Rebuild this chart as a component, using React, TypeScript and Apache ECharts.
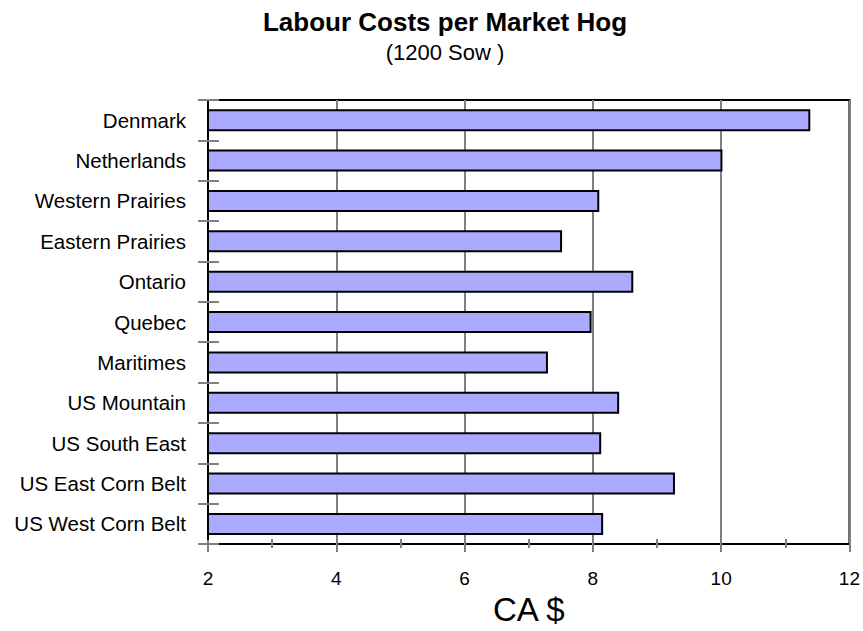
import React, { useEffect, useRef } from "react";
import * as echarts from "echarts";

// Regions, top to bottom
const regions = [
  "Denmark",
  "Netherlands",
  "Western Prairies",
  "Eastern Prairies",
  "Ontario",
  "Quebec",
  "Maritimes",
  "US Mountain",
  "US South East",
  "US East Corn Belt",
  "US West Corn Belt",
];

// Labour cost per market hog, CA $
const labourCost = [11.39, 10.02, 8.1, 7.52, 8.63, 7.98, 7.3, 8.41, 8.13, 9.28, 8.16];

const chartTitle = "Labour Costs per Market Hog";
const chartSubtitle = "(1200 Sow )";
const valueAxisName = "CA $";

const FONT = "'Liberation Sans', Arial, Helvetica, sans-serif";

export default function App() {
  const ref = useRef<HTMLDivElement>(null);

  useEffect(() => {
    if (!ref.current) return;
    const chart = echarts.init(ref.current, null, { renderer: "svg" });

    const tickStyle = { color: "#808080", width: 2 };

    chart.setOption({
      animation: false,
      backgroundColor: "#ffffff",
      textStyle: { fontFamily: FONT, color: "#000" },
      graphic: [
        {
          type: "text",
          x: 445,
          y: 22,
          style: {
            text: chartTitle,
            font: `bold 26px ${FONT}`,
            fill: "#000",
            textAlign: "center",
            textVerticalAlign: "middle",
          },
        },
        {
          type: "text",
          x: 445,
          y: 52,
          style: {
            text: chartSubtitle,
            font: `22px ${FONT}`,
            fill: "#000",
            textAlign: "center",
            textVerticalAlign: "middle",
          },
        },
      ],
      grid: {
        left: 208,
        right: 9,
        top: 100,
        bottom: 79,
        show: true,
        borderColor: "#000",
        borderWidth: 2,
        backgroundColor: "#fff",
      },
      xAxis: [
        {
          type: "value",
          position: "bottom",
          min: 2,
          max: 12,
          interval: 2,
          name: valueAxisName,
          nameLocation: "middle",
          nameGap: 43,
          nameTextStyle: { fontSize: 33, color: "#000", fontFamily: FONT },
          axisLine: { show: true, lineStyle: { color: "#000", width: 2 } },
          axisTick: { show: true, inside: false, length: 8, lineStyle: tickStyle },
          minorTick: { show: true, splitNumber: 2, length: 4, lineStyle: tickStyle },
          axisLabel: { fontSize: 19, color: "#000", margin: 25, fontFamily: FONT },
          splitLine: { show: true, lineStyle: { color: "#808080", width: 2 } },
        },
        {
          type: "value",
          position: "bottom",
          offset: 0,
          min: 2,
          max: 12,
          interval: 2,
          axisLine: { show: false },
          axisTick: { show: true, inside: true, length: 4, lineStyle: tickStyle },
          minorTick: { show: true, splitNumber: 2, length: 5, lineStyle: tickStyle },
          axisLabel: { show: false },
          splitLine: { show: false },
        },
      ],
      yAxis: [
        {
          type: "category",
          position: "left",
          inverse: true,
          data: regions,
          axisLine: { show: true, lineStyle: { color: "#000", width: 2 } },
          axisTick: { show: true, inside: false, length: 10, lineStyle: tickStyle },
          axisLabel: { fontSize: 20.5, color: "#000", margin: 22, fontFamily: FONT },
          splitLine: { show: false },
        },
        {
          type: "category",
          position: "left",
          offset: 0,
          inverse: true,
          data: regions,
          axisLine: { show: false },
          axisTick: { show: true, inside: true, length: 11, lineStyle: tickStyle },
          axisLabel: { show: false },
          splitLine: { show: false },
        },
      ],
      series: [
        {
          type: "bar",
          xAxisIndex: 0,
          yAxisIndex: 0,
          data: labourCost,
          barWidth: 22,
          itemStyle: { color: "#aaaaff", borderColor: "#000", borderWidth: 2 },
        },
      ],
    });

    return () => chart.dispose();
  }, []);

  return (
    <div
      ref={ref}
      style={{ position: "absolute", left: 0, top: 0, width: 863, height: 631 }}
    />
  );
}
